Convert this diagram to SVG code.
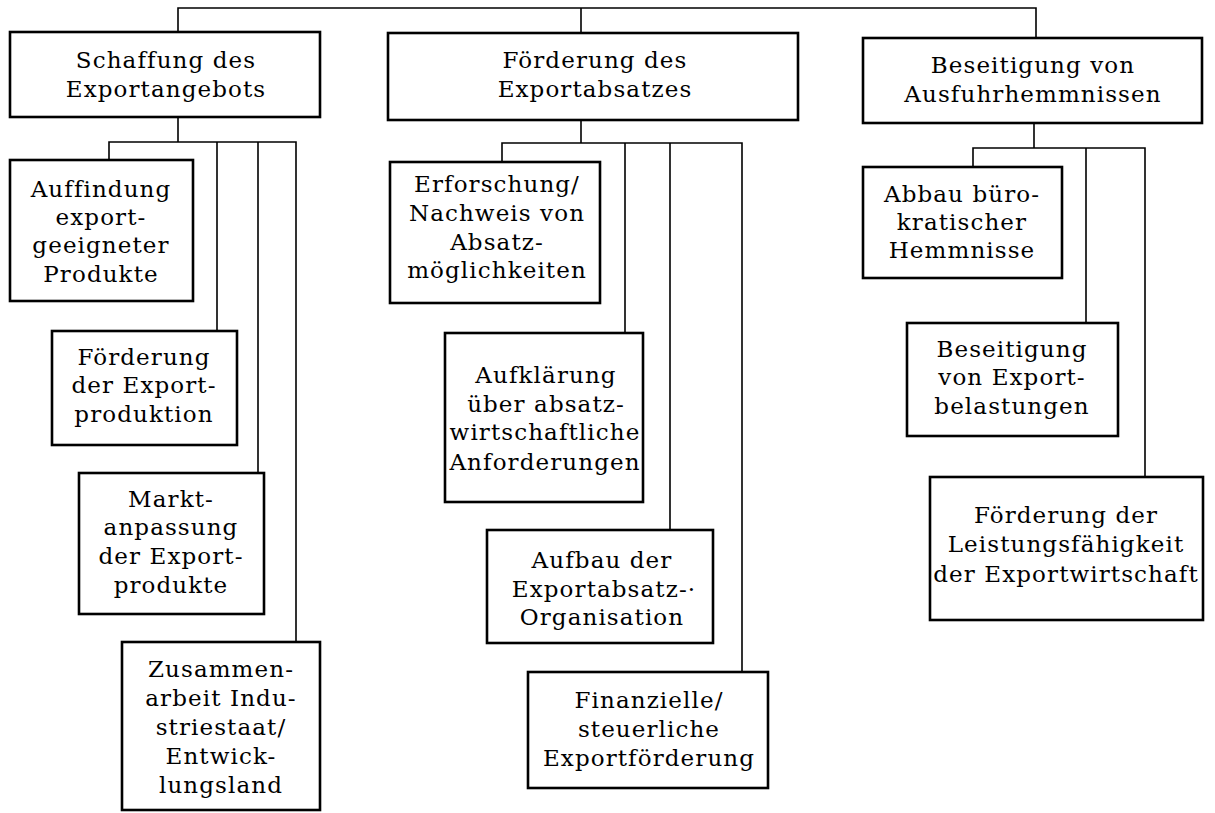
<svg xmlns="http://www.w3.org/2000/svg" width="1215" height="813" viewBox="0 0 1215 813">
<style>
.box{fill:#fff;stroke:#000;stroke-width:2.6}
.ln{fill:none;stroke:#000;stroke-width:1.6}
text{font-family:"DejaVu Serif","Liberation Serif",serif;font-size:23px;fill:#000;text-anchor:middle;letter-spacing:1.1px}
</style>
<rect width="1215" height="813" fill="#fff"/>
<g id="connectors">
<path class="ln" d="M178,32 V8 H1036 V38 M581,8 V33"/>
<path class="ln" d="M178,117 V142 M109,160 V142 H296 V642 M217,142 V331 M258,142 V473"/>
<path class="ln" d="M581,120 V143 M502,162 V143 H742 V672 M625,143 V333 M670,143 V530"/>
<path class="ln" d="M1034,123 V148 M973,167 V148 H1145 V477 M1086,148 V323"/>
</g>
<g id="n1"><rect class="box" x="10" y="32" width="310" height="85"/><text x="166" y="68">Schaffung des</text><text x="166" y="97">Exportangebots</text></g>
<g id="n2"><rect class="box" x="388" y="33" width="410" height="87"/><text x="595" y="68">Förderung des</text><text x="595" y="97">Exportabsatzes</text></g>
<g id="n3"><rect class="box" x="863" y="38" width="339" height="85"/><text x="1033" y="73">Beseitigung von</text><text x="1033" y="102">Ausfuhrhemmnissen</text></g>
<g id="n1a"><rect class="box" x="10" y="160" width="183" height="141"/><text x="101" y="197">Auffindung</text><text x="101" y="225">export-</text><text x="101" y="253">geeigneter</text><text x="101" y="282">Produkte</text></g>
<g id="n1b"><rect class="box" x="52" y="331" width="185" height="114"/><text x="144" y="365">Förderung</text><text x="144" y="393">der Export-</text><text x="144" y="422">produktion</text></g>
<g id="n1c"><rect class="box" x="79" y="473" width="185" height="141"/><text x="171" y="507">Markt-</text><text x="171" y="535">anpassung</text><text x="171" y="564">der Export-</text><text x="171" y="593">produkte</text></g>
<g id="n1d"><rect class="box" x="122" y="642" width="198" height="168"/><text x="221" y="677">Zusammen-</text><text x="221" y="706">arbeit Indu-</text><text x="221" y="735">striestaat/</text><text x="221" y="764">Entwick-</text><text x="221" y="793">lungsland</text></g>
<g id="n2a"><rect class="box" x="390" y="162" width="210" height="141"/><text x="497" y="192">Erforschung/</text><text x="497" y="221">Nachweis von</text><text x="497" y="250">Absatz-</text><text x="497" y="278">möglichkeiten</text></g>
<g id="n2b"><rect class="box" x="445" y="333" width="198" height="169"/><text x="546" y="383">Aufklärung</text><text x="546" y="412">über absatz-</text><text x="545" y="440">wirtschaftliche</text><text x="545" y="470">Anforderungen</text></g>
<g id="n2c"><rect class="box" x="487" y="530" width="226" height="113"/><text x="602" y="568">Aufbau der</text><text x="604" y="597">Exportabsatz-·</text><text x="602" y="625">Organisation</text></g>
<g id="n2d"><rect class="box" x="528" y="672" width="240" height="116"/><text x="649" y="708">Finanzielle/</text><text x="649" y="737">steuerliche</text><text x="649" y="766">Exportförderung</text></g>
<g id="n3a"><rect class="box" x="863" y="167" width="199" height="111"/><text x="962" y="202">Abbau büro-</text><text x="962" y="230">kratischer</text><text x="962" y="258">Hemmnisse</text></g>
<g id="n3b"><rect class="box" x="907" y="323" width="211" height="113"/><text x="1012" y="357">Beseitigung</text><text x="1012" y="385">von Export-</text><text x="1012" y="414">belastungen</text></g>
<g id="n3c"><rect class="box" x="930" y="477" width="273" height="143"/><text x="1066" y="523">Förderung der</text><text x="1066" y="552">Leistungsfähigkeit</text><text x="1066" y="582">der Exportwirtschaft</text></g>
</svg>
